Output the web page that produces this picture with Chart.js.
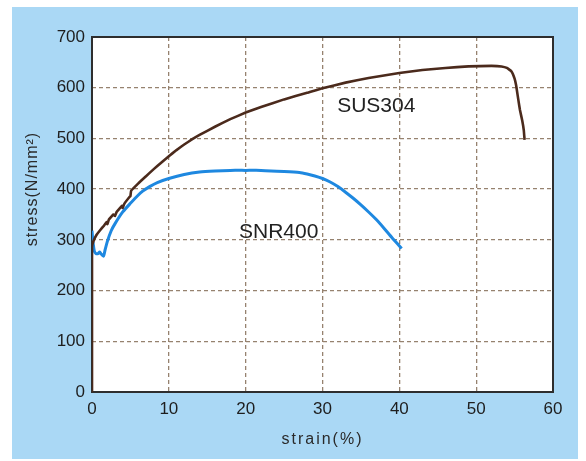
<!DOCTYPE html>
<html>
<head>
<meta charset="utf-8">
<script src="https://cdn.jsdelivr.net/npm/chart.js@4/dist/chart.umd.min.js"></script>
<style>
  html, body { margin: 0; padding: 0; background: #ffffff; }
  #wrap { position: relative; width: 586px; height: 461px; }
  #panel { position: absolute; left: 12px; top: 7px; width: 566px; height: 452px; background: #aad8f5; }
  #c { position: absolute; left: 0; top: 0; }
</style>
</head>
<body>
<div id="wrap">
  <div id="panel"></div>
  <canvas id="c" width="586" height="461"></canvas>
</div>
<script>
// ---- data ----
const sus304Strain = [0, 0, 0.2, 0.6, 1.0, 1.5, 1.9, 2.0, 2.2, 2.8, 3.0, 3.2, 3.9, 4.0, 4.2, 4.9, 5.0, 5.1, 6, 7, 8, 9, 10, 11, 12, 13, 14, 16, 18, 20, 22, 25, 28, 30, 33, 36, 40, 43, 46, 49, 52, 53.3, 54, 54.6, 55.0, 55.2, 55.3, 55.5, 55.7, 56.0, 56.2, 56.3];
const sus304Stress = [0, 285, 298, 310, 318, 327, 335, 331, 340, 350, 347, 355, 367, 363, 371, 385, 386, 397, 411, 425, 439, 452, 465, 477, 488, 498, 507, 523, 538, 551, 562, 577, 590, 599, 610, 619, 629, 635, 639, 642, 643, 642, 639, 632, 618, 605, 595, 575, 556, 535, 516, 497];
const snr400Strain = [0, 0.1, 0.3, 0.5, 0.8, 1.0, 1.2, 1.5, 1.7, 2.0, 2.5, 3, 4, 5, 6, 6.6, 7.5, 8.5, 10, 12, 14, 16, 18, 20, 22, 25, 27, 28, 29, 30, 31, 32, 33, 34, 35, 36, 37, 38, 39, 40.3];
const snr400Stress = [318, 300, 278, 273, 273, 276, 272, 268, 280, 297, 318, 332, 355, 372, 388, 396, 405, 413, 421, 429, 434, 436, 437, 437, 437, 435, 433, 430, 426, 421, 414, 405, 394, 382, 369, 355, 340, 323, 305, 283];
const seriesNames = ['SUS304', 'SNR400'];
const labelAnchorStrain = [37, 24.3];
const labelAnchorStress = [563, 315];
const xTitle = 'strain(%)';
const yTitle = 'stress(N/mm²)';
const xRange = [0, 60, 10];
const yRange = [0, 700, 100];

function zip(xs, ys) { return xs.map((x, i) => ({ x: x, y: ys[i] })); }

const areaPlugin = {
  id: 'area',
  beforeDraw(chart) {
    const a = chart.chartArea, ctx = chart.ctx;
    ctx.save();
    ctx.fillStyle = '#ffffff';
    ctx.fillRect(a.left, a.top, a.right - a.left, a.bottom - a.top);
    ctx.restore();
  },
  beforeDatasetsDraw(chart) {
    const a = chart.chartArea, ctx = chart.ctx;
    ctx.save();
    ctx.strokeStyle = '#2e2e2e';
    ctx.lineWidth = 2;
    ctx.strokeRect(a.left, a.top, a.right - a.left, a.bottom - a.top);
    ctx.restore();
  },
  afterDatasetsDraw(chart) {
    const ctx = chart.ctx, xs = chart.scales.x, ys = chart.scales.y;
    ctx.save();
    ctx.fillStyle = '#222222';
    ctx.font = '21px "Liberation Sans", Arial, sans-serif';
    ctx.textAlign = 'center';
    ctx.textBaseline = 'middle';
    seriesNames.forEach((n, i) => {
      ctx.fillText(n, xs.getPixelForValue(labelAnchorStrain[i]), ys.getPixelForValue(labelAnchorStress[i]));
    });
    // axis titles
    ctx.font = '16px "Liberation Sans", Arial, sans-serif';
    ctx.fillStyle = '#2a2a2a';
    ctx.letterSpacing = '2px';
    ctx.fillText(xTitle, (chart.chartArea.left + chart.chartArea.right) / 2, 440);
    ctx.letterSpacing = '1px';
    ctx.translate(33, 189);
    ctx.rotate(-Math.PI / 2);
    ctx.fillText(yTitle, 0, 0);
    ctx.restore();
  }
};

const edgeHidden = (ctx) => {
  const s = ctx.scale;
  const v = ctx.tick && ctx.tick.value;
  return (v === s.min || v === s.max) ? 'rgba(0,0,0,0)' : '#96826f';
};

new Chart(document.getElementById('c'), {
  type: 'scatter',
  data: {
    datasets: [
      {
        label: seriesNames[0],
        data: zip(sus304Strain, sus304Stress),
        showLine: true,
        borderColor: '#4b2a1c',
        borderWidth: 2.6,
        pointRadius: 0,
        tension: 0.1,
        fill: false
      },
      {
        label: seriesNames[1],
        data: zip(snr400Strain, snr400Stress),
        showLine: true,
        borderColor: '#1e88e0',
        borderWidth: 3,
        pointRadius: 0,
        tension: 0.2,
        fill: false
      }
    ]
  },
  options: {
    responsive: false,
    animation: false,
    layout: { padding: { left: 12, top: 37, right: 33, bottom: 0 } },
    plugins: { legend: { display: false }, tooltip: { enabled: false } },
    scales: {
      x: {
        type: 'linear',
        min: xRange[0], max: xRange[1],
        afterFit(s) { s.height = 69; },
        ticks: { stepSize: xRange[2], padding: 7, color: '#1e1e1e', font: { family: '"Liberation Sans", Arial, sans-serif', size: 17 } },
        grid: { color: edgeHidden, lineWidth: 1.3, drawTicks: false },
        border: { display: false, dash: [4, 3] }
      },
      y: {
        type: 'linear',
        min: yRange[0], max: yRange[1],
        afterFit(s) { s.width = 80; },
        ticks: { stepSize: yRange[2], padding: 7, color: '#1e1e1e', font: { family: '"Liberation Sans", Arial, sans-serif', size: 17 } },
        grid: { color: edgeHidden, lineWidth: 1.3, drawTicks: false },
        border: { display: false, dash: [4, 3] }
      }
    }
  },
  plugins: [areaPlugin]
});
</script>
</body>
</html>
